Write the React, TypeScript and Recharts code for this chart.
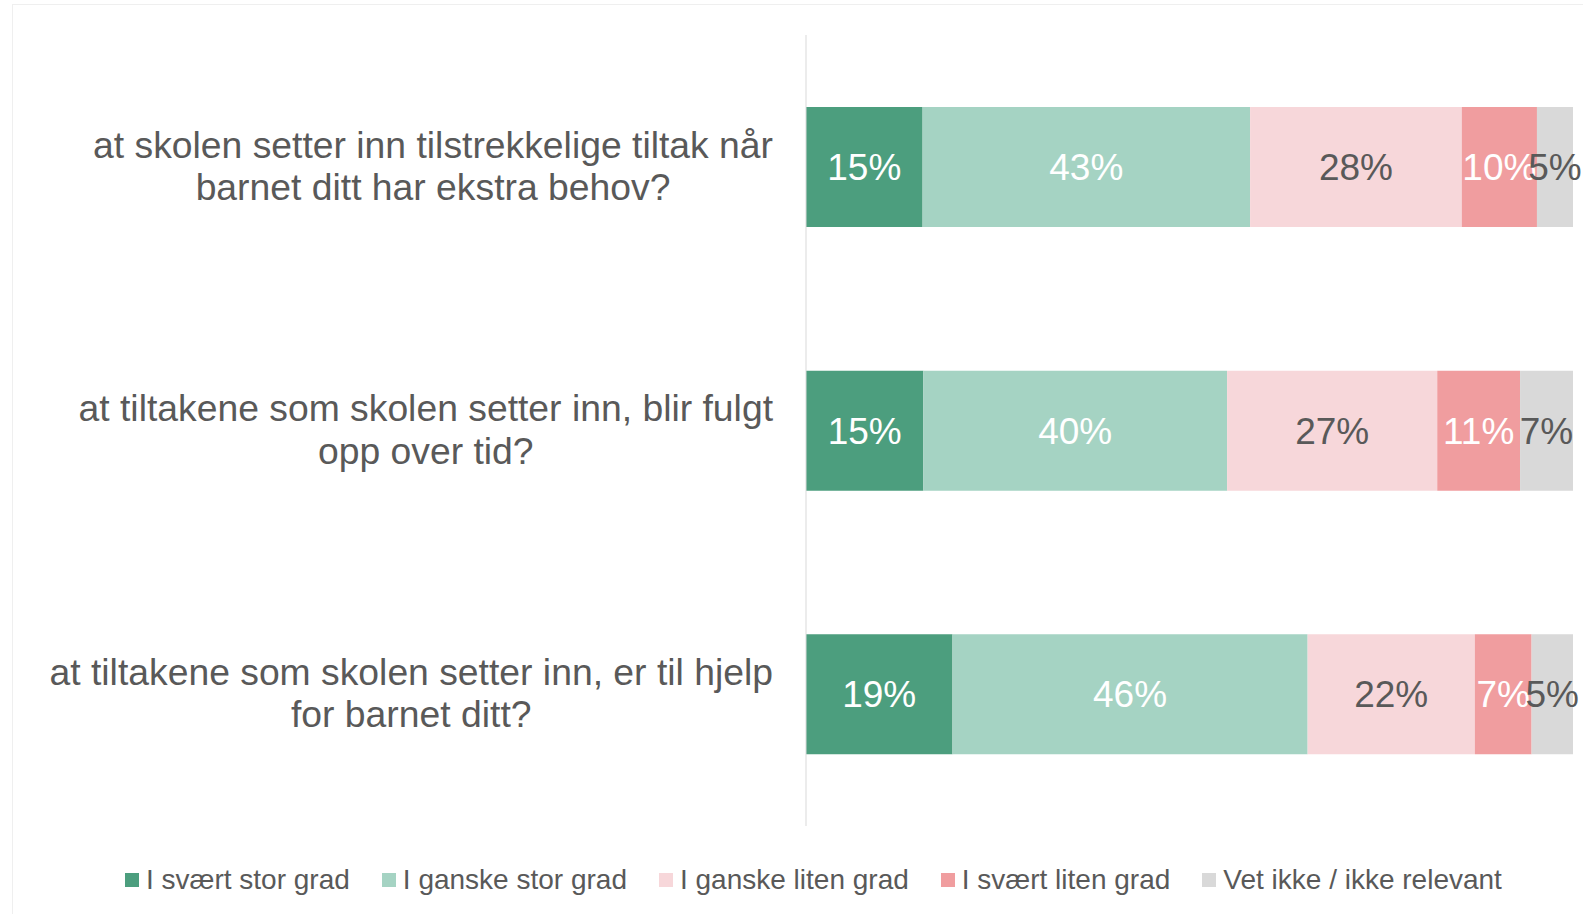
import { BarChart, Bar, XAxis, YAxis, LabelList } from 'recharts'

const FONT = '"Liberation Sans", Arial, Helvetica, sans-serif'
const TEXT = '#595959'

// spørsmål (two lines each, split on \n)
const QUESTIONS = [
  'at skolen setter inn tilstrekkelige tiltak når\nbarnet ditt har ekstra behov?',
  'at tiltakene som skolen setter inn, blir fulgt\nopp over tid?',
  'at tiltakene som skolen setter inn, er til hjelp\nfor barnet ditt?',
]

const SERIES_NAMES = [
  'I svært stor grad',
  'I ganske stor grad',
  'I ganske liten grad',
  'I svært liten grad',
  'Vet ikke / ikke relevant',
]

// andeler i prosent (labels show them rounded)
const SVAERT_STOR = [15.2, 15.3, 19.1]
const GANSKE_STOR = [42.7, 39.6, 46.3]
const GANSKE_LITEN = [27.6, 27.4, 21.8]
const SVAERT_LITEN = [9.8, 10.8, 7.4]
const VET_IKKE = [4.7, 6.9, 5.4]

const COLORS = ['#4C9E7E', '#A5D3C3', '#F7D7DA', '#F09D9F', '#D9D9D9']
const LABEL_COLORS = ['#FFFFFF', '#FFFFFF', TEXT, '#FFFFFF', TEXT]

const KEYS = ['s1', 's2', 's3', 's4', 's5']
const data = QUESTIONS.map((q, i) => ({
  q,
  s1: SVAERT_STOR[i],
  s2: GANSKE_STOR[i],
  s3: GANSKE_LITEN[i],
  s4: SVAERT_LITEN[i],
  s5: VET_IKKE[i],
}))

const W = 1583
const H = 914
const LABEL_RIGHT = 773
const Q_SIZE = 37.3
const LINE_H = 42.4

let ctx: CanvasRenderingContext2D | null = null
function textWidth(s: string, size: number) {
  if (!ctx) ctx = document.createElement('canvas').getContext('2d')
  if (!ctx) return s.length * size * 0.5
  ctx.font = `${size}px ${FONT}`
  return ctx.measureText(s).width
}

function QuestionTick({ y, payload }: any) {
  const lines = String(payload.value).split('\n')
  const w = Math.max(...lines.map(l => textWidth(l, Q_SIZE)))
  const cx = LABEL_RIGHT - w / 2
  return (
    <g>
      {lines.map((l, i) => (
        <text
          key={i}
          x={cx}
          y={y + (i - (lines.length - 1) / 2) * LINE_H - 1}
          dy="0.35em"
          textAnchor="middle"
          fill={TEXT}
          fontSize={Q_SIZE}
          fontFamily={FONT}
        >
          {l}
        </text>
      ))}
    </g>
  )
}

export default function App() {
  return (
    <div style={{ position: 'absolute', left: 0, top: 0, width: W, height: H, overflow: 'hidden', background: '#fff', fontFamily: FONT }}>
      <div style={{ position: 'absolute', left: 12, top: 4, width: 1640, height: 980, border: '1.5px solid #EFEFEF' }} />
      <div style={{ position: 'absolute', left: 0, top: 0 }}>
        <BarChart
          width={W}
          height={H}
          data={data}
          layout="vertical"
          stackOffset="expand"
          margin={{ top: 35, right: 10, bottom: 88, left: 0 }}
        >
          <XAxis type="number" hide />
          <YAxis
            type="category"
            dataKey="q"
            width={806}
            axisLine={{ stroke: '#D9D9D9' }}
            tickLine={false}
            tick={<QuestionTick />}
          />
          {KEYS.map((k, i) => (
            <Bar key={k} dataKey={k} name={SERIES_NAMES[i]} stackId="a" fill={COLORS[i]} barSize={120} isAnimationActive={false}>
              <LabelList
                dataKey={k}
                position="center"
                formatter={(v: any) => `${Math.round(Number(v))}%`}
                fill={LABEL_COLORS[i]}
                fontSize={37}
                fontFamily={FONT}
              />
            </Bar>
          ))}
        </BarChart>
      </div>
      <div style={{ position: 'absolute', left: 125, top: 864, height: 32, display: 'flex', alignItems: 'center', whiteSpace: 'nowrap' }}>
        {SERIES_NAMES.map((n, i) => (
          <div key={n} style={{ display: 'flex', alignItems: 'center', marginRight: 32 }}>
            <span style={{ width: 14, height: 14, background: COLORS[i], marginRight: 7, display: 'inline-block' }} />
            <span style={{ fontSize: 28, color: TEXT, lineHeight: '32px' }}>{n}</span>
          </div>
        ))}
      </div>
    </div>
  )
}
